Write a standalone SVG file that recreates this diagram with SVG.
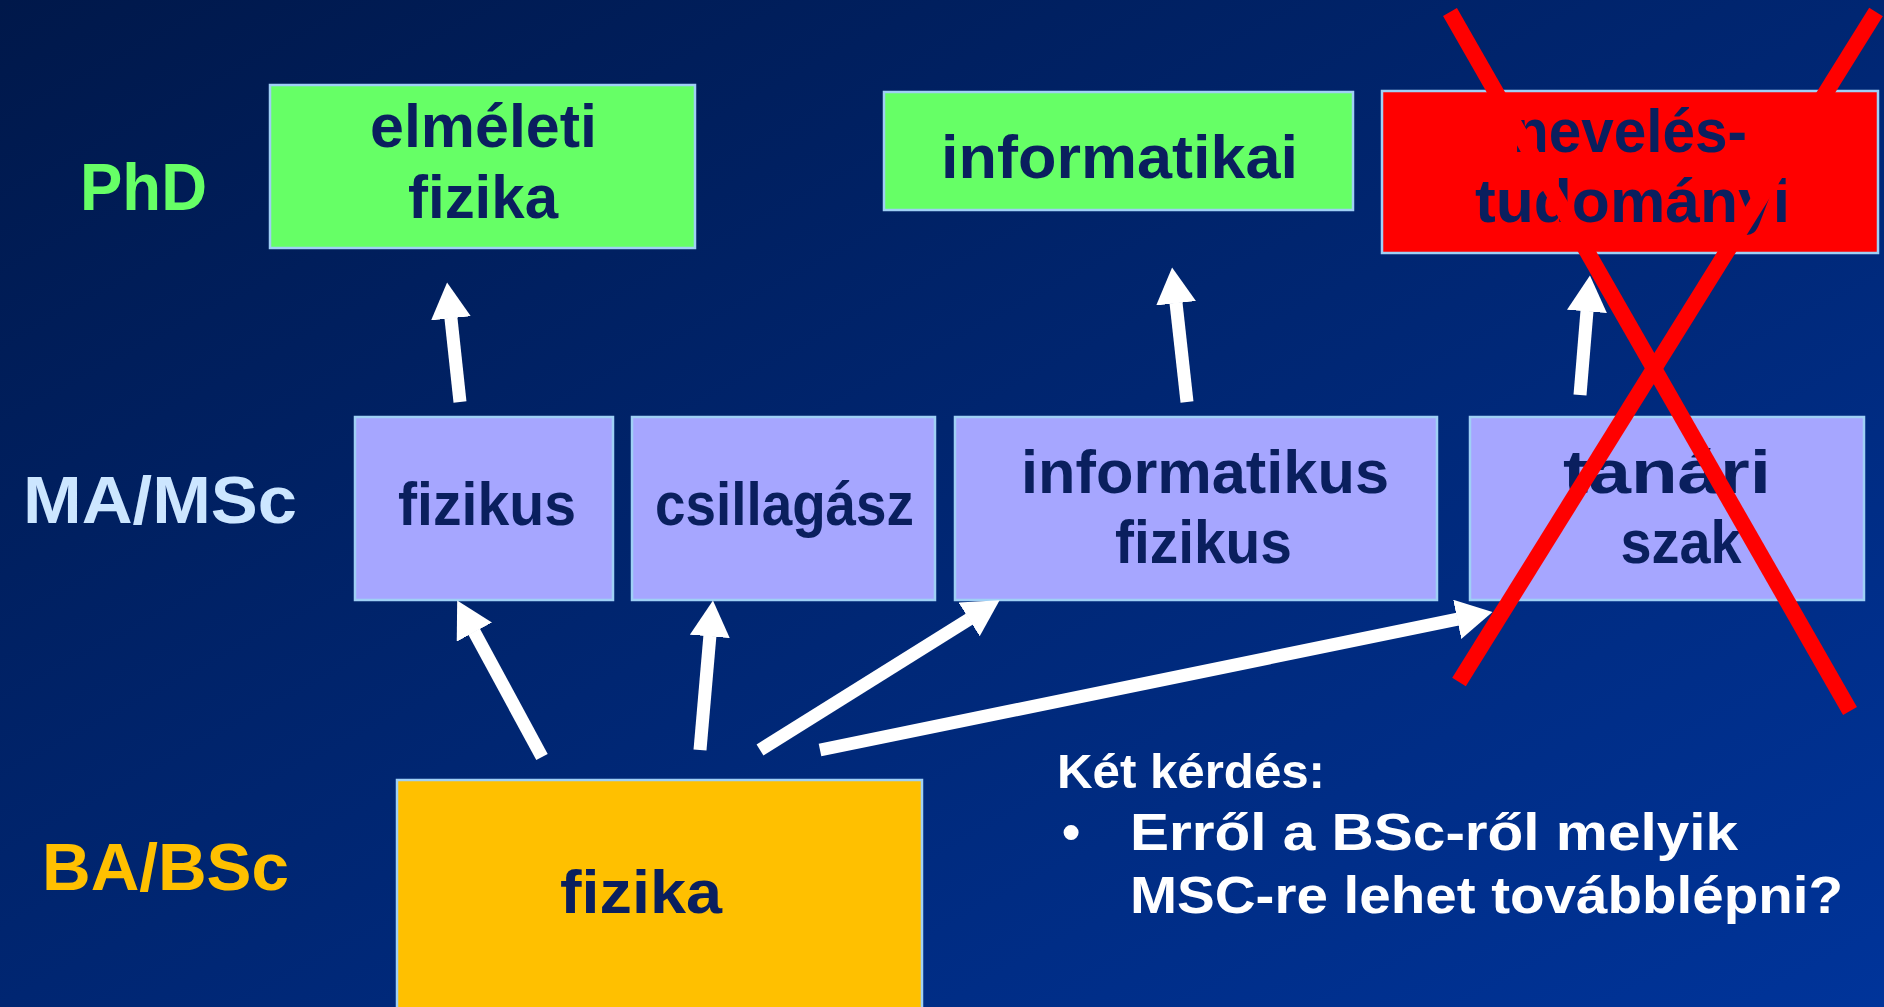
<svg xmlns="http://www.w3.org/2000/svg" width="1884" height="1007" viewBox="0 0 1884 1007">
  <defs>
    <linearGradient id="bg" x1="0" y1="0" x2="1" y2="1">
      <stop offset="0" stop-color="#00184A"/>
      <stop offset="1" stop-color="#00349A"/>
    </linearGradient>
    <marker id="head" viewBox="0 0 36 40" markerWidth="36" markerHeight="40" markerUnits="userSpaceOnUse" refX="0.5" refY="20" orient="auto">
      <path d="M0,0 L36,20 L0,40 Z" fill="#FFFFFF"/>
    </marker>
    <style>
      .box { stroke: #9FD0F5; stroke-width: 2.5; }
      .phd { fill: #66FF66; }
      .msc { fill: #A6A6FF; }
      .bsc { fill: #FFC000; }
      .red { fill: #FF0000; }
      .t { font-family: "Liberation Sans", Arial, sans-serif; font-weight: bold; fill: #0A1F5E; font-size: 61px; text-anchor: middle; }
      .lbl { font-family: "Liberation Sans", Arial, sans-serif; font-weight: bold; font-size: 66px; }
      .q { font-family: "Liberation Sans", Arial, sans-serif; font-weight: bold; fill: #FFFFFF; }
      .arrow { stroke: #FFFFFF; stroke-width: 13; fill: none; stroke-linecap: butt; marker-end: url(#head); }
      .cross { stroke: #FF0000; stroke-width: 16; stroke-linecap: butt; }
    </style>
  </defs>

  <rect x="0" y="0" width="1884" height="1007" fill="url(#bg)"/>

  <g id="level-labels">
    <text class="lbl" x="80" y="210" fill="#66FF66" textLength="127" lengthAdjust="spacingAndGlyphs">PhD</text>
    <text class="lbl" x="23" y="523" fill="#CCE6FF" textLength="274" lengthAdjust="spacingAndGlyphs">MA/MSc</text>
    <text class="lbl" x="42" y="890" fill="#FFC000" textLength="247" lengthAdjust="spacingAndGlyphs">BA/BSc</text>
  </g>

  <g id="node-elmeleti-fizika">
    <rect class="box phd" x="270" y="85" width="425" height="163"/>
    <text class="t"><tspan x="483.5" y="147" textLength="227" lengthAdjust="spacingAndGlyphs">elméleti</tspan><tspan x="483" y="218" textLength="150" lengthAdjust="spacingAndGlyphs">fizika</tspan></text>
  </g>

  <g id="node-informatikai">
    <rect class="box phd" x="884" y="92" width="469" height="118"/>
    <text class="t" x="1119.5" y="178" textLength="357" lengthAdjust="spacingAndGlyphs">informatikai</text>
  </g>

  <g id="node-neveles-tudomanyi">
    <rect class="box red" x="1382" y="91" width="496" height="162"/>
    <text class="t"><tspan x="1630" y="152" textLength="234" lengthAdjust="spacingAndGlyphs">nevelés-</tspan><tspan x="1632.5" y="222" textLength="315" lengthAdjust="spacingAndGlyphs">tudományi</tspan></text>
  </g>

  <g id="node-fizikus">
    <rect class="box msc" x="355" y="417" width="258" height="183"/>
    <text class="t" x="487" y="525" textLength="178" lengthAdjust="spacingAndGlyphs">fizikus</text>
  </g>

  <g id="node-csillagasz">
    <rect class="box msc" x="632" y="417" width="303" height="183"/>
    <text class="t" x="784.5" y="525" textLength="259" lengthAdjust="spacingAndGlyphs">csillagász</text>
  </g>

  <g id="node-informatikus-fizikus">
    <rect class="box msc" x="955" y="417" width="482" height="183"/>
    <text class="t"><tspan x="1205" y="493" textLength="368" lengthAdjust="spacingAndGlyphs">informatikus</tspan><tspan x="1203.5" y="563" textLength="177" lengthAdjust="spacingAndGlyphs">fizikus</tspan></text>
  </g>

  <g id="node-tanari-szak">
    <rect class="box msc" x="1470" y="417" width="394" height="183"/>
    <text class="t"><tspan x="1667" y="493" textLength="208" lengthAdjust="spacingAndGlyphs">tanári</tspan><tspan x="1681" y="563" textLength="121" lengthAdjust="spacingAndGlyphs">szak</tspan></text>
  </g>

  <g id="node-fizika-bsc">
    <rect class="box bsc" x="397" y="780" width="525" height="240"/>
    <text class="t" x="641" y="913" textLength="162" lengthAdjust="spacingAndGlyphs">fizika</text>
  </g>

  <g id="connectors">
    <line class="arrow" x1="460" y1="402" x2="450.9" y2="317.8"/>
    <line class="arrow" x1="1187" y1="402" x2="1176" y2="302.8"/>
    <line class="arrow" x1="1580" y1="395" x2="1587" y2="310.9"/>
    <line class="arrow" x1="542" y1="757" x2="474.1" y2="631.7"/>
    <line class="arrow" x1="700" y1="750" x2="709.9" y2="635.9"/>
    <line class="arrow" x1="760" y1="750" x2="969.5" y2="619.1"/>
    <line class="arrow" x1="820" y1="750" x2="1457.7" y2="619.2"/>
  </g>

  <g id="questions">
    <text class="q" x="1057" y="788" font-size="48" textLength="268" lengthAdjust="spacingAndGlyphs">Két kérdés:</text>
    <text class="q" font-size="52"><tspan x="1062" y="850">•</tspan><tspan x="1130" y="850" textLength="608" lengthAdjust="spacingAndGlyphs">Erről a BSc-ről melyik</tspan><tspan x="1130" y="913" textLength="713" lengthAdjust="spacingAndGlyphs">MSC-re lehet továbblépni?</tspan></text>
  </g>

  <g id="cross">
    <line class="cross" x1="1450" y1="12" x2="1850" y2="711"/>
    <line class="cross" x1="1876" y1="12" x2="1459" y2="682"/>
  </g>
</svg>
